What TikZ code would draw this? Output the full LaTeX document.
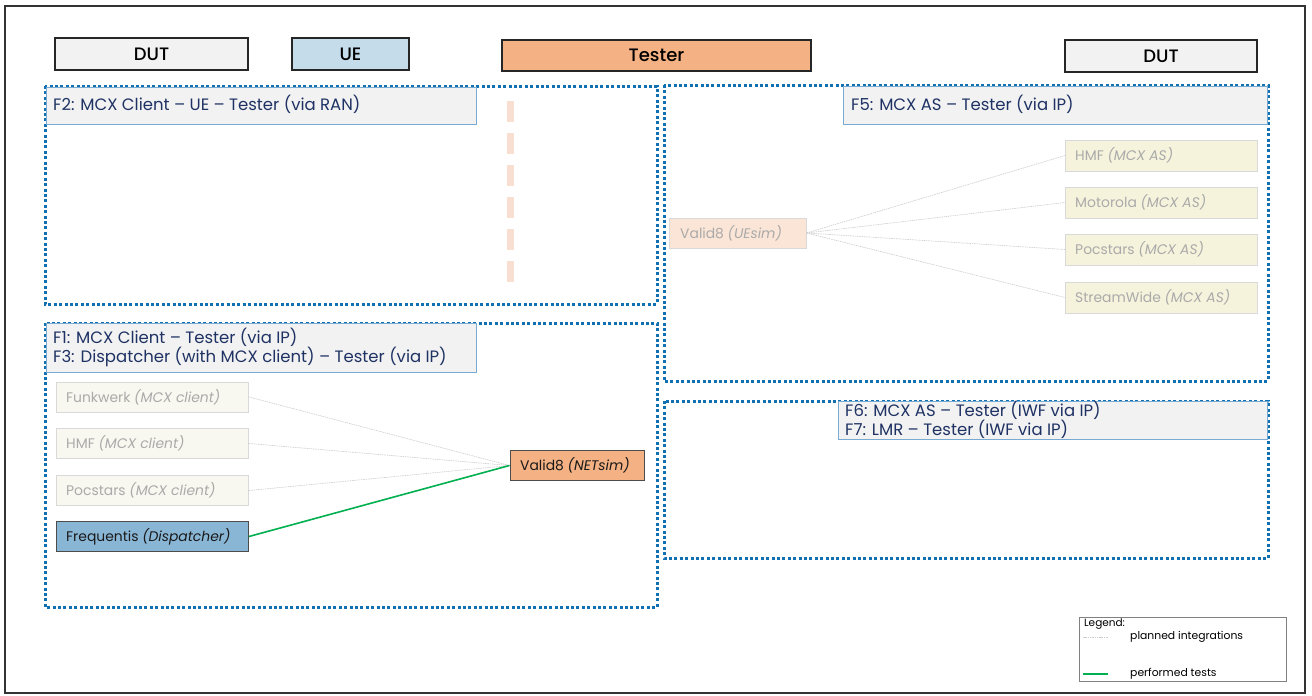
\documentclass[tikz,border=0pt]{standalone}
\usepackage{fontspec}
\setmainfont{Poppins}
\newfontfamily\popmed{Poppins Medium}
\definecolor{frameblue}{RGB}{16,112,178}
\definecolor{titlefill}{RGB}{242,242,242}
\definecolor{titleline}{RGB}{120,170,210}
\definecolor{navy}{RGB}{31,50,100}
\definecolor{uefill}{RGB}{197,220,234}
\definecolor{testfill}{RGB}{244,177,131}
\definecolor{dutfill}{RGB}{242,242,242}
\definecolor{pinkdash}{RGB}{249,222,210}
\definecolor{asfill}{RGB}{245,243,220}
\definecolor{clientfill}{RGB}{248,248,240}
\definecolor{uesimfill}{RGB}{251,229,214}
\definecolor{fadetext}{RGB}{170,170,170}
\definecolor{fadeline}{RGB}{205,205,205}
\definecolor{freqfill}{RGB}{138,182,214}
\definecolor{greenline}{RGB}{0,176,80}
\tikzset{
  x=1pt,y=-1pt,
  hdr/.style={draw=black!85,line width=2pt,font=\popmed\fontsize{18}{21}\selectfont,inner sep=0pt},
  zone/.style={draw=frameblue,line width=3pt,dash pattern=on 3pt off 2.4pt},
  ttl/.style={draw=titleline,fill=titlefill,line width=0.8pt},
  ttltext/.style={anchor=west,text=navy,font=\fontsize{16.5}{19}\selectfont,align=left,inner sep=0pt},
  planbox/.style={draw=black!15,line width=1pt,inner sep=0pt},
  nodetext/.style={anchor=west,text=fadetext,font=\fontsize{13.9}{16}\selectfont,inner sep=0pt},
  planline/.style={draw=fadeline,line width=0.6pt,dash pattern=on 1.5pt off 0.8pt},
  doneline/.style={draw=greenline,line width=1.6pt},
}
\begin{document}
\begin{tikzpicture}
\useasboundingbox (0,0) rectangle (1312,696);
\fill[white] (0,0) rectangle (1312,696);
\draw[black!80,line width=2pt] (5,6) rectangle (1305,693);
% headers
\node[hdr,fill=dutfill,minimum width=193pt,minimum height=32pt] (dutl) at (151.5,54) {DUT};
\node[hdr,fill=uefill,minimum width=117pt,minimum height=32pt] (ue) at (350.5,54) {UE};
\node[hdr,fill=testfill,minimum width=309pt,minimum height=31pt] (tester) at (656.5,55.5) {Tester};
\node[hdr,fill=dutfill,minimum width=192pt,minimum height=32pt] (dutr) at (1161,56) {DUT};
% zones
\draw[zone] (45,86) rectangle (657,304);
\draw[zone] (45,323) rectangle (657,607);
\draw[zone] (664,85) rectangle (1268,381);
\draw[zone] (664,401) rectangle (1268,558);
% titles
\draw[ttl] (46,87) rectangle (476,124);
\node[ttltext] (t2) at (53,104) {F2: MCX Client – UE – Tester (via RAN)};
\draw[ttl] (46,323) rectangle (476,372);
\node[ttltext] (t1) at (53,347) {F1: MCX Client – Tester (via IP)\\F3: Dispatcher (with MCX client) – Tester (via IP)};
\draw[ttl] (843,86) rectangle (1267,124);
\node[ttltext] (t5) at (851,104) {F5: MCX AS – Tester (via IP)};
\draw[ttl] (838,401) rectangle (1267,439);
\node[ttltext] (t6) at (845,419.5) {F6: MCX AS – Tester (IWF via IP)\\F7: LMR – Tester (IWF via IP)};
% pink dashed line
\draw[pinkdash,line width=7pt,dash pattern=on 21pt off 11pt] (510,101) -- (510,285);
% F5 nodes
\node[planbox,fill=uesimfill,minimum width=137pt,minimum height=30pt] (uesim) at (737.5,233) {};
\node[nodetext] (uesimt) at (680,233) {Valid8 \textit{(UEsim)}};
\node[planbox,fill=asfill,minimum width=192pt,minimum height=31pt,anchor=west] (as1) at (1065,155.5) {};
\node[planbox,fill=asfill,minimum width=192pt,minimum height=31pt,anchor=west] (as2) at (1065,202.5) {};
\node[planbox,fill=asfill,minimum width=192pt,minimum height=31pt,anchor=west] (as3) at (1065,249.5) {};
\node[planbox,fill=asfill,minimum width=192pt,minimum height=31pt,anchor=west] (as4) at (1065,297.5) {};
\node[nodetext] (as1t) at (1075,155.5) {HMF \textit{(MCX AS)}};
\node[nodetext] (as2t) at (1075,202.5) {Motorola \textit{(MCX AS)}};
\node[nodetext] (as3t) at (1075,249.5) {Pocstars \textit{(MCX AS)}};
\node[nodetext] (as4t) at (1075,297.5) {StreamWide \textit{(MCX AS)}};
\foreach \n in {as1,as2,as3,as4} \draw[planline] (uesim.east) -- (\n.west);
% F1 nodes
\node[planbox,fill=clientfill,minimum width=192pt,minimum height=30pt,anchor=west] (c1) at (56,397) {};
\node[planbox,fill=clientfill,minimum width=192pt,minimum height=30pt,anchor=west] (c2) at (56,443.5) {};
\node[planbox,fill=clientfill,minimum width=192pt,minimum height=30pt,anchor=west] (c3) at (56,490.5) {};
\node[draw=black!70,line width=1pt,fill=freqfill,minimum width=192pt,minimum height=30pt,anchor=west,inner sep=0pt] (freq) at (56,536.5) {};
\node[nodetext] (c1t) at (66,397) {Funkwerk \textit{(MCX client)}};
\node[nodetext] (c2t) at (66,443.5) {HMF \textit{(MCX client)}};
\node[nodetext] (c3t) at (66,490.5) {Pocstars \textit{(MCX client)}};
\node[nodetext,text=black!90] (freqt) at (66,536.5) {Frequentis \textit{(Dispatcher)}};
\node[draw=black!70,line width=1pt,fill=testfill,minimum width=134pt,minimum height=30pt,inner sep=0pt] (net) at (577,465.5) {};
\node[nodetext,text=black!90] (nett) at (520,465.5) {Valid8 \textit{(NETsim)}};
\foreach \n in {c1,c2,c3} \draw[planline] (\n.east) -- (net.west);
\draw[doneline] (freq.east) -- (net.west);
% legend
\node[draw=black!50,line width=0.8pt,minimum width=207pt,minimum height=64pt,inner sep=0pt] (leg) at (1182.5,649) {};
\node[anchor=north west,font=\fontsize{10.5}{12}\selectfont,inner sep=0pt] (legt) at (1084,619) {Legend:};
\coordinate (p1) at (1083,637);
\coordinate (p2) at (1108,637);
\draw[planline] (p1) -- (p2);
\node[anchor=west,font=\fontsize{10.8}{12}\selectfont,inner sep=0pt] (lp) at (1130,637) {planned integrations};
\coordinate (g1) at (1083,674);
\coordinate (g2) at (1108,674);
\draw[doneline] (g1) -- (g2);
\node[anchor=west,font=\fontsize{10.8}{12}\selectfont,inner sep=0pt] (lg) at (1130,674) {performed tests};
\end{tikzpicture}
\end{document}
